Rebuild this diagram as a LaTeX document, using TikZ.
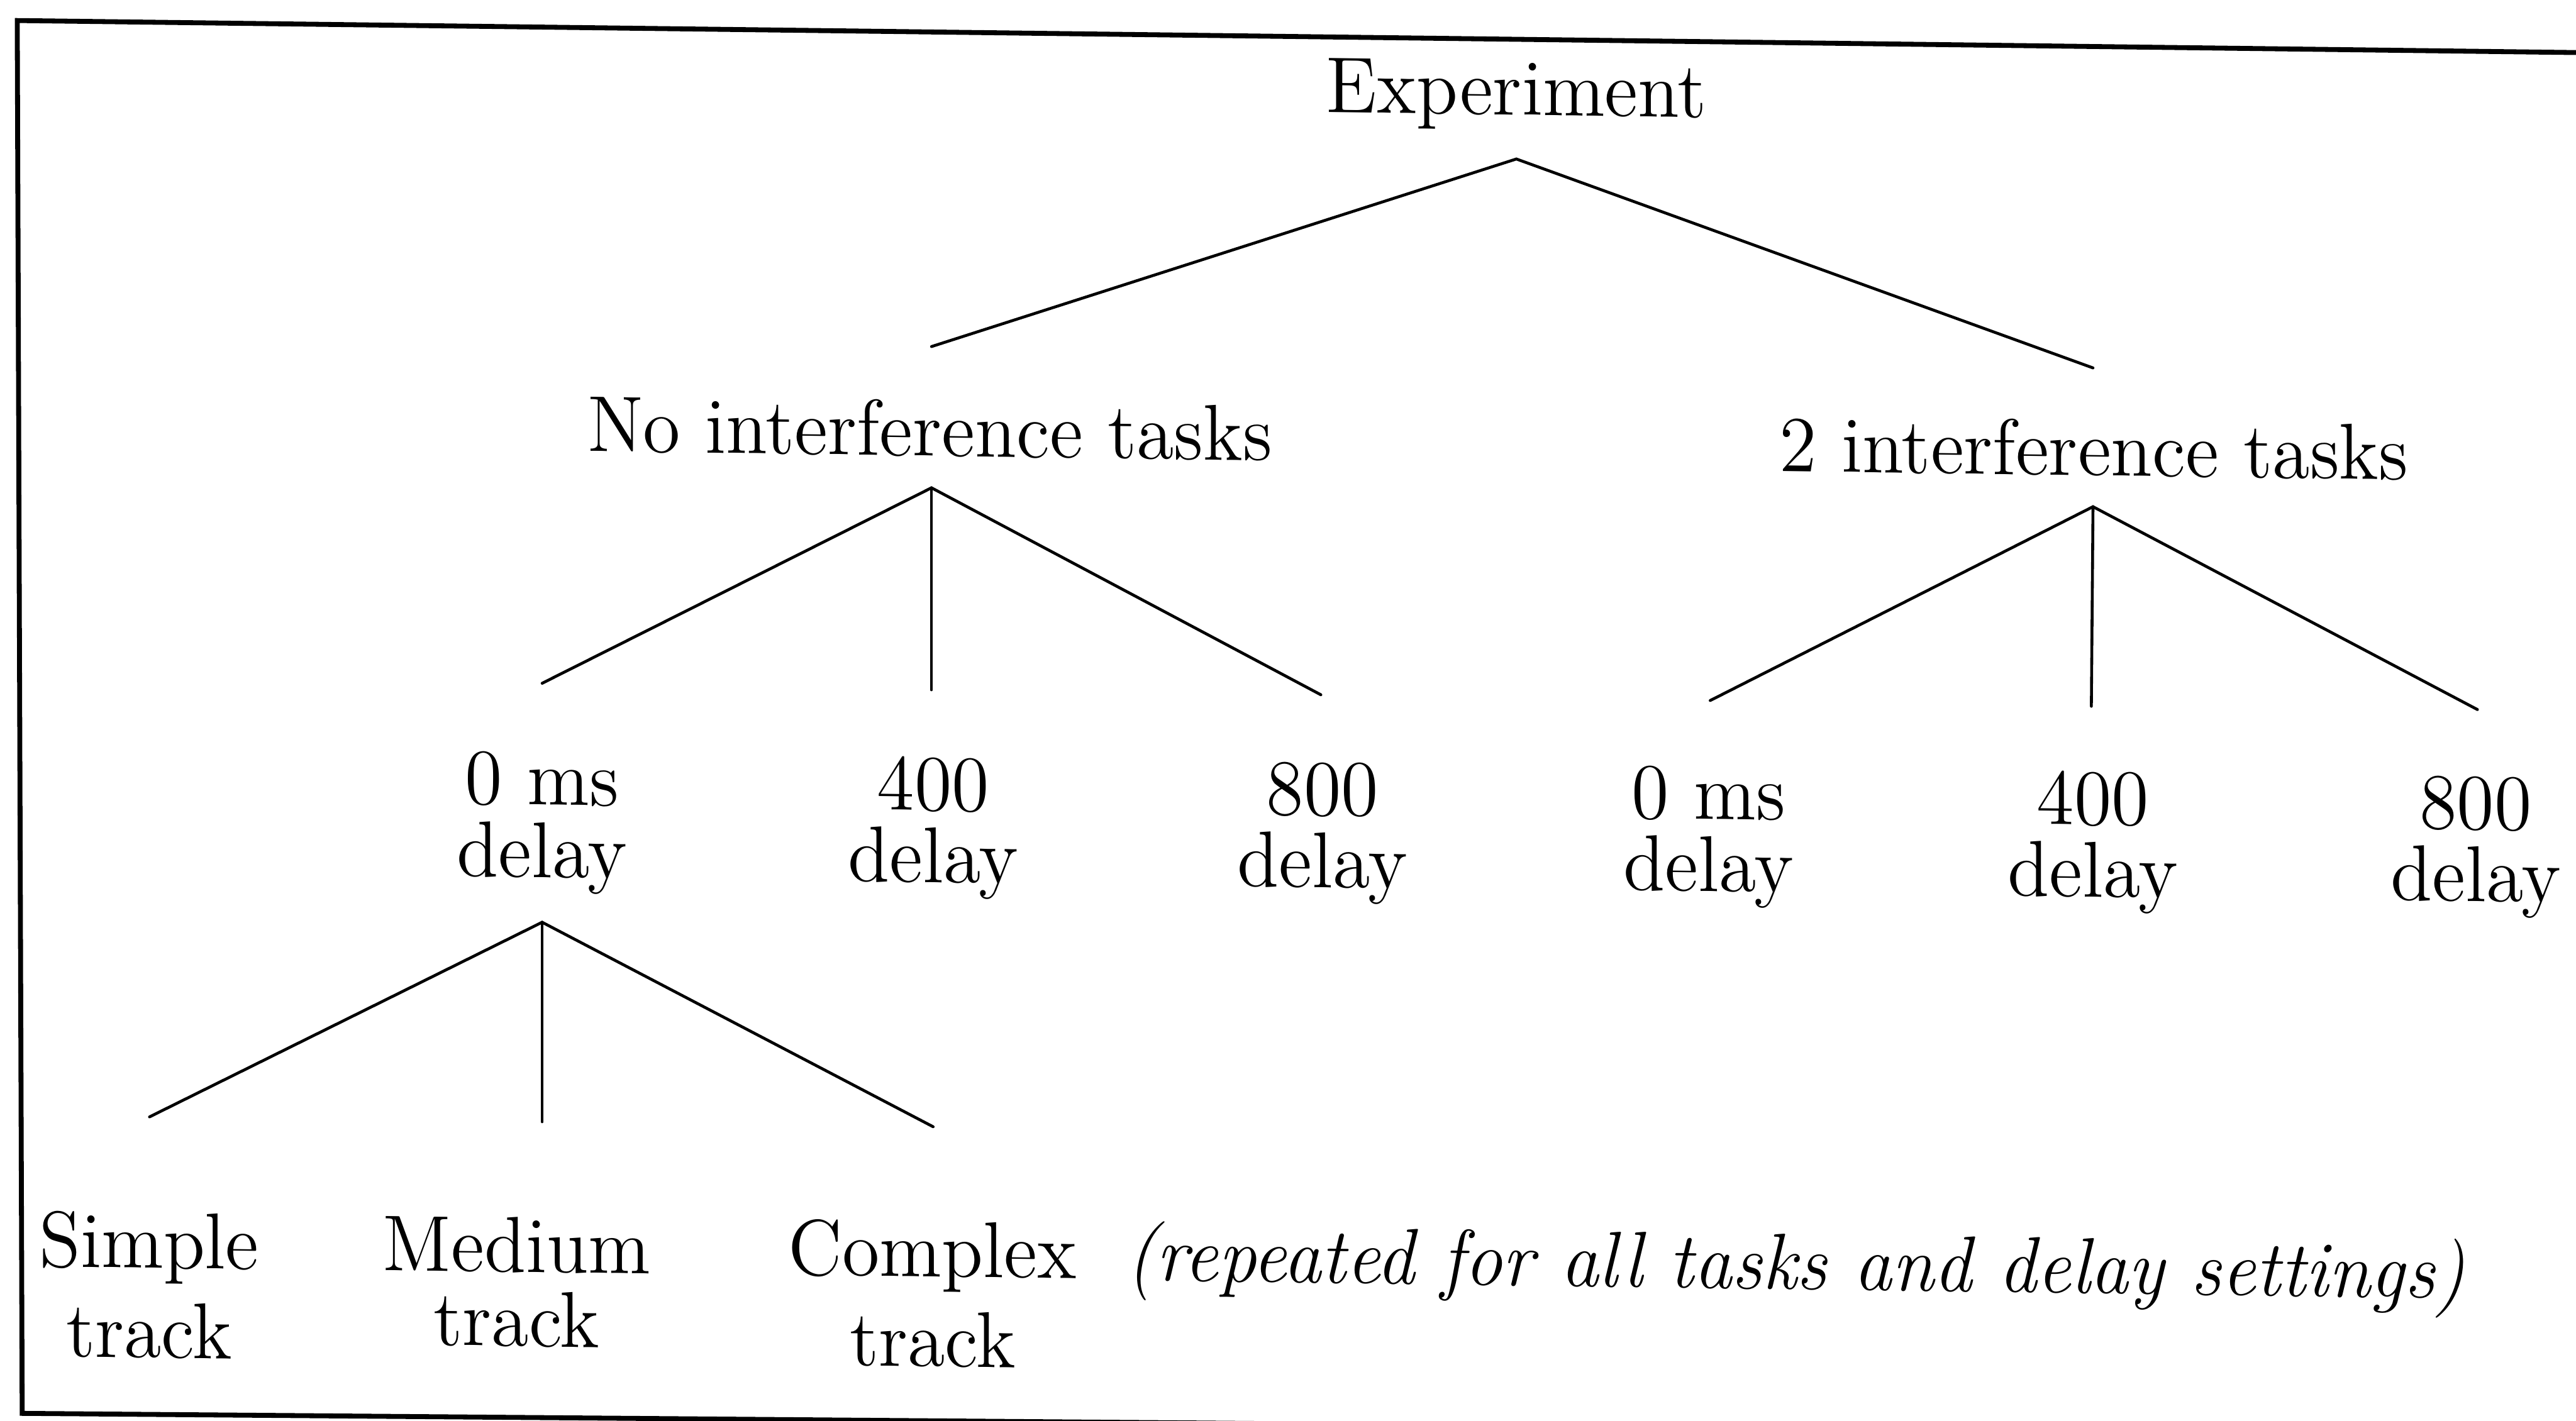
\documentclass[tikz,border=0pt]{standalone}
\usepackage{fontspec}
\begin{document}
\begin{tikzpicture}[x=0.1mm,y=-0.1mm,
  lbl/.style={inner sep=0pt, outer sep=0pt, align=center,
    font=\fontsize{13.2}{12.04}\selectfont\addfontfeatures{FakeBold=0.8},
    yscale=1.04, yslant=-0.013},
  note/.style={lbl, font=\fontsize{13.2}{12.04}\selectfont\itshape\addfontfeatures{FakeBold=0.8}},
  branch/.style={line width=0.5pt, line cap=round},
  border/.style={line width=0.85pt, line join=miter}]
\useasboundingbox (0,0) rectangle (1568,865);

% outer frame (runs past the right and bottom edges)
\begin{scope}
  \clip (0,0) rectangle (1568,865);
  \draw[border] (1600,32.4) -- (10.5,12.5) -- (13.5,860.5) -- (1600,873.5);
\end{scope}

% level 0
\node[lbl, anchor=base] (exp) at (923,70) {Experiment};

% level 1
\node[lbl, anchor=base] (noint)  at (566,277.6)  {No interference tasks};
\node[lbl, anchor=base] (twoint) at (1274.5,289.5) {2 interference tasks};

% level 2: delays
\node[lbl] (la) at (330,501)    {0 ms\\delay};
\node[lbl] (lb) at (568,504)    {400\\delay};
\node[lbl] (lc) at (805,507.2)  {800\\delay};
\node[lbl] (ra) at (1040,509.6) {0 ms\\delay};
\node[lbl] (rb) at (1274,512.7) {400\\delay};
\node[lbl] (rc) at (1507,515.7) {800\\delay};

% level 3: tracks
\node[lbl] (simple)  at (90.7,782.6)  {Simple\\[2.9pt]track};
\node[lbl] (medium)  at (314.5,780.6) {Medium\\[0.3pt]track};
\node[lbl] (complex) at (567.7,787.9) {Complex\\[2.95pt]track};
\node[note, anchor=base] (repeat) at (1093,785) {(repeated for all tasks and delay settings)};

% branch points below each parent and tips above each child
\coordinate (exp-b)    at (923,96.8);
\coordinate (noint-t)  at (567,211);
\coordinate (twoint-t) at (1274,224);

\coordinate (noint-b) at (567,297);
\coordinate (la-t) at (330,416);
\coordinate (lb-t) at (567,420);
\coordinate (lc-t) at (804,423);

\coordinate (twoint-b) at (1274,308.5);
\coordinate (ra-t) at (1041,426.5);
\coordinate (rb-t) at (1273,430);
\coordinate (rc-t) at (1508,432);

\coordinate (la-b) at (330,561.5);
\coordinate (simple-t)  at (91,680);
\coordinate (medium-t)  at (330,683);
\coordinate (complex-t) at (568,686);

% branches
\draw[branch] (noint-t) -- (exp-b) -- (twoint-t);
\draw[branch] (la-t) -- (noint-b) -- (lc-t);
\draw[branch] (noint-b) -- (lb-t);
\draw[branch] (ra-t) -- (twoint-b) -- (rc-t);
\draw[branch] (twoint-b) -- (rb-t);
\draw[branch] (simple-t) -- (la-b) -- (complex-t);
\draw[branch] (la-b) -- (medium-t);
\end{tikzpicture}
\end{document}
